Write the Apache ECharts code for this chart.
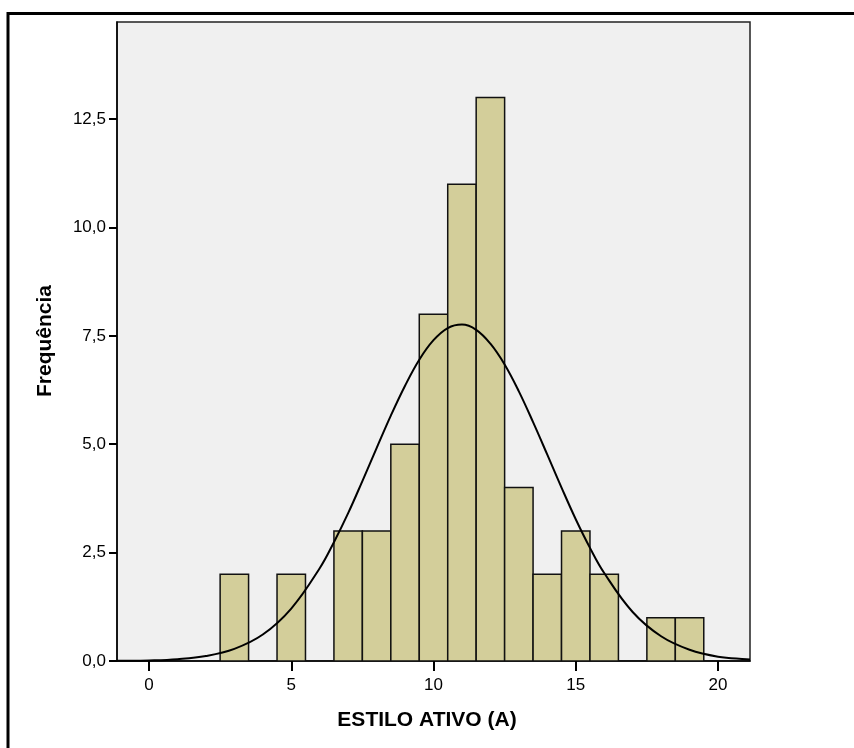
<!DOCTYPE html>
<html>
<head>
<meta charset="utf-8">
<script src="https://cdn.jsdelivr.net/npm/echarts@6/dist/echarts.min.js"></script>
<style>html,body{margin:0;padding:0;background:#fff;}#c{width:854px;height:748px;}</style>
</head>
<body>
<div id="c"></div>
<script>
// Histogram bins (centre of each 1-unit bin) and frequencies
var binCenters = [3, 5, 7, 8, 9, 10, 11, 12, 13, 14, 15, 16, 18, 19];
var frequencies = [2, 2, 3, 3, 5, 8, 11, 13, 4, 2, 3, 2, 1, 1];
// Normal curve
var curveX = [-1.125, -1, 0, 1, 2, 3, 4, 5, 6, 6.5, 7, 7.5, 8, 8.5, 9, 9.5, 10, 10.5, 11, 11.5, 12, 12.5, 13, 13.5, 14, 14.5, 15, 15.5, 16, 17, 18, 19, 20, 21, 21.125];
var curveY = [0.003, 0.004, 0.014, 0.043, 0.115, 0.28, 0.61, 1.21, 2.14, 2.74, 3.41, 4.15, 4.91, 5.66, 6.35, 6.95, 7.40, 7.68, 7.76, 7.64, 7.32, 6.84, 6.22, 5.51, 4.76, 4.00, 3.27, 2.61, 2.03, 1.13, 0.57, 0.26, 0.10, 0.038, 0.033];
var xTicks = [0, 5, 10, 15, 20];
var yTicks = [0, 2.5, 5, 7.5, 10, 12.5];

var barData = binCenters.map(function (c, i) { return [c, frequencies[i]]; });
var curveData = curveX.map(function (x, i) { return [x, curveY[i]]; });

var chart = echarts.init(document.getElementById('c'), null, {renderer: 'canvas'});
var font = '"Liberation Sans", Arial, sans-serif';
chart.setOption({
  animation: false,
  backgroundColor: '#ffffff',
  grid: {left: 117, right: 104, top: 22, bottom: 87, show: true, backgroundColor: '#f0f0f0', borderColor: '#222', borderWidth: 1.5},
  xAxis: {
    type: 'value', min: -1.125, max: 21.125,
    axisLine: {show: true, onZero: false, lineStyle: {color: '#000', width: 1.5}},
    axisTick: {show: true, length: 10, customValues: xTicks, lineStyle: {color: '#000', width: 2}},
    axisLabel: {customValues: xTicks, color: '#000', fontSize: 17, fontFamily: font, margin: 16},
    splitLine: {show: false}
  },
  yAxis: {
    type: 'value', min: 0, max: 14.74,
    axisLine: {show: true, onZero: false, lineStyle: {color: '#000', width: 1.5}},
    axisTick: {show: true, length: 8, customValues: yTicks, lineStyle: {color: '#000', width: 2}},
    axisLabel: {customValues: yTicks, color: '#000', fontSize: 17, fontFamily: font, margin: 11,
      formatter: function (v) { return v.toFixed(1).replace('.', ','); }},
    splitLine: {show: false}
  },
  series: [
    {
      type: 'custom',
      data: barData,
      clip: true,
      renderItem: function (params, api) {
        var c = api.value(0), v = api.value(1);
        var p0 = api.coord([c - 0.5, v]);
        var p1 = api.coord([c + 0.5, 0]);
        return {
          type: 'rect',
          shape: {x: p0[0], y: p0[1], width: p1[0] - p0[0], height: p1[1] - p0[1]},
          style: {fill: '#d3ce9a', stroke: '#111', lineWidth: 1.5}
        };
      },
      z: 2
    },
    {
      type: 'line',
      data: curveData,
      smooth: 0.4,
      showSymbol: false,
      symbol: 'none',
      lineStyle: {color: '#000', width: 2},
      z: 3
    }
  ],
  graphic: [
    {type: 'rect', shape: {x: 8, y: 13.5, width: 900, height: 800}, style: {fill: 'none', stroke: '#000', lineWidth: 3}, z: 10},
    {type: 'text', x: 45.5, y: 341, rotation: Math.PI / 2,
      style: {text: 'Frequência', font: 'bold 21px ' + font, fill: '#000', textAlign: 'center', textVerticalAlign: 'middle'}},
    {type: 'text', x: 427, y: 720,
      style: {text: 'ESTILO ATIVO (A)', font: 'bold 21px ' + font, fill: '#000', textAlign: 'center', textVerticalAlign: 'middle'}}
  ]
});
</script>
</body>
</html>
